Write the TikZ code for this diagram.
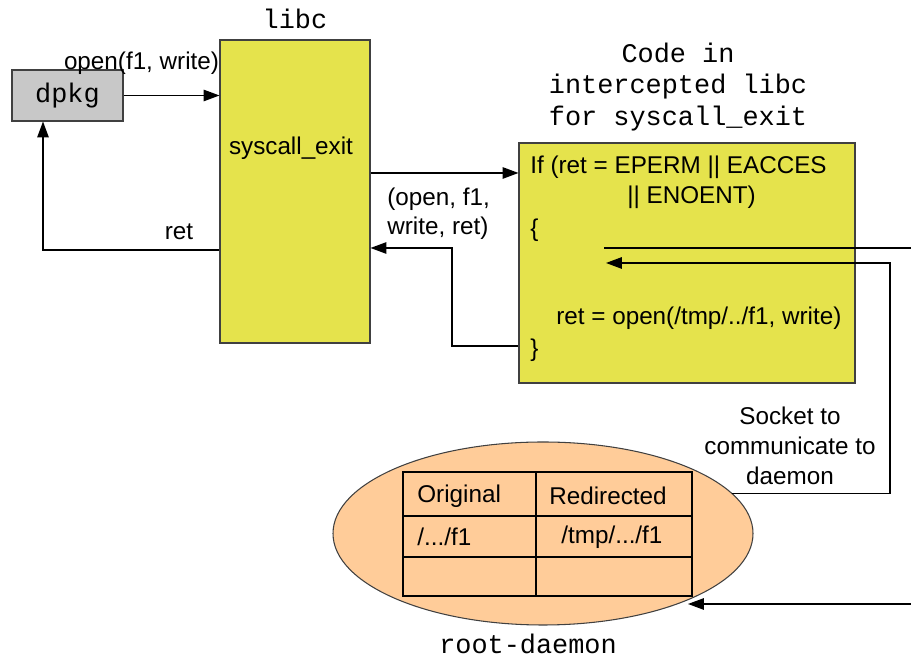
\documentclass[tikz,border=0pt]{standalone}
\usepackage{fontspec}
\setmainfont{Liberation Sans}
\setmonofont{Liberation Mono}
\usetikzlibrary{arrows.meta,shapes.geometric}
\definecolor{scyellow}{HTML}{E5E34C}
\definecolor{scpeach}{HTML}{FFCC99}
\definecolor{scgray}{HTML}{C8C8C8}
\definecolor{scedge}{HTML}{404040}

\begin{document}
\begin{tikzpicture}[
    x=1cm, y=1cm, inner sep=0pt,
    font=\fontsize{13.8}{16.5}\selectfont,
    >={Triangle[length=9pt,width=6.5pt]},
    box/.style={draw=scedge, line width=0.6pt},
    code/.style={font=\fontsize{15.3}{17.9}\selectfont\ttfamily},
    wire/.style={line width=0.75pt}]

  \useasboundingbox[fill=white] (0,0) rectangle (18.22,13.2);

  % boxes
  \node[box, fill=scgray, code, minimum width=2.22cm, minimum height=1.02cm]
       (dpkg) at (1.35,11.29) {dpkg};
  \node[box, fill=scyellow, minimum width=3cm, minimum height=6.06cm]
       (libc) at (5.9,9.37) {};
  \node[box, fill=scyellow, minimum width=6.72cm, minimum height=4.8cm]
       (code) at (13.74,7.94) {};
  \node[ellipse, box, fill=scpeach, minimum width=8.4cm, minimum height=3.66cm]
       (daemon) at (10.86,2.53) {};

  % redirection table
  \draw[black, line width=0.6pt] (8.06,1.28) rectangle (13.84,3.76)
       (10.72,1.28) -- (10.72,3.76)
       (8.06,2.88) -- (13.84,2.88)
       (8.06,2.06) -- (13.84,2.06);

  % titles
  \node[code] (libctitle) at (5.9,12.82) {libc};
  \node[code, align=center] (codetitle) at (13.56,11.46)
       {Code in\\intercepted libc\\for syscall\_exit};
  \node[code] (roottitle) at (10.56,0.32) {root-daemon};

  % labels
  \node (openlbl) at (2.83,11.94) {open(f1, write)};
  \node (sysexit) at (5.82,10.24) {syscall\_exit};
  \node (retlbl) at (3.58,8.56) {ret};
  \node[anchor=west, align=left] (args) at (7.74,8.92) {(open, f1,\\write, ret)};
  \node[align=center, font=\fontsize{13.8}{17.1}\selectfont] (socklbl) at (15.8,4.28)
       {Socket to\\communicate to\\daemon};

  % body of the wrapper
  \node[anchor=west] (cond)   at (10.6,9.86)  {If (ret = EPERM || EACCES};
  \node[anchor=west] (cond2)  at (12.54,9.26) {|| ENOENT)};
  \node[anchor=west] (lbrace) at (10.6,8.6)   {\{};
  \node[anchor=west] (reopen) at (11.12,6.84) {ret = open(/tmp/../f1, write)};
  \node[anchor=west] (rbrace) at (10.6,6.2)   {\}};

  % table cells
  \node[anchor=west] (orighead) at (8.34,3.28)  {Original};
  \node[anchor=west] (redirhead) at (10.98,3.28) {Redirected};
  \node[anchor=west] (origf) at (8.34,2.46)  {/.../f1};
  \node[anchor=west] (redirf) at (11.22,2.46) {/tmp/.../f1};

  % calls and returns
  \draw[wire,->] (dpkg) -- (dpkg -| libc.west);
  \draw[wire,->] (libc.west |- 0,8.2) -| ([xshift=-0.49cm]dpkg.south);
  \draw[wire,->] (libc.east |- 0,9.74) -- (code.west |- 0,9.74);
  \draw[wire,->] (code.west |- 0,6.28) -| (9.04,8.24) -- (libc.east |- 0,8.24);

  % socket to the daemon
  \coordinate (query)   at (12.08,8.24);
  \coordinate (edgeout) at (18.22,8.24);
  \coordinate (reply)   at (12.12,7.94);
  \coordinate (edgein)  at (18.22,1.12);
  \coordinate (tabin)   at (13.76,1.12);
  \draw[wire] (query) -- (edgeout);
  \draw[wire,->] (daemon.12) -| (17.8,7.94) -- (reply);
  \draw[wire,->] (edgein) -- (tabin);
\end{tikzpicture}
\end{document}
